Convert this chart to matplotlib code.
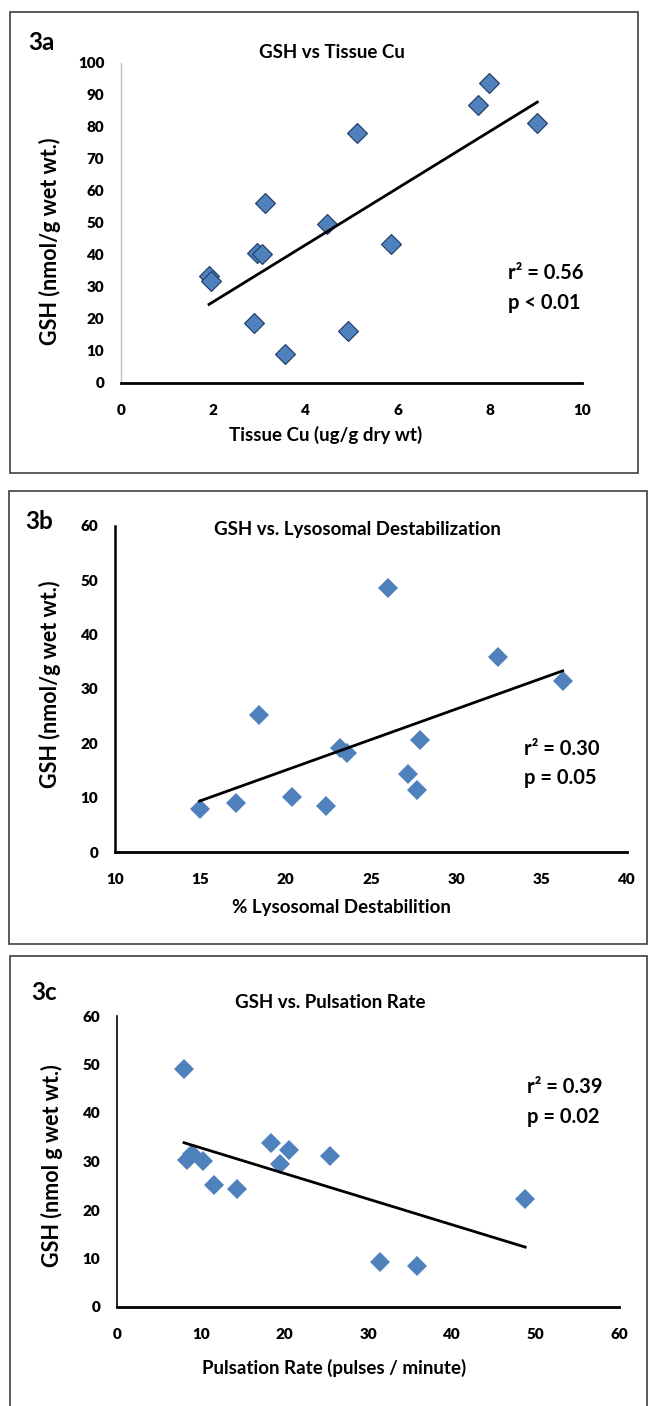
import numpy as np
import matplotlib.pyplot as plt
from matplotlib.patches import Rectangle

# panel 3a: GSH vs tissue Cu
cu_x = [1.91, 1.95, 2.89, 2.94, 3.05, 3.12, 3.55, 4.46, 4.93, 5.11, 5.85, 7.75, 7.98, 9.03]
cu_y = [33.4, 31.8, 18.8, 40.5, 40.3, 56.2, 9.0, 49.7, 16.3, 78.1, 43.4, 87.0, 93.7, 81.2]

# panel 3b: GSH vs lysosomal destabilization
lyso_x = [14.96, 17.11, 18.42, 20.38, 22.39, 23.19, 23.6, 26.0, 27.14, 27.7, 27.9, 32.45, 36.23]
lyso_y = [7.96, 9.0, 25.3, 10.1, 8.4, 19.2, 18.3, 48.6, 14.3, 11.5, 20.6, 35.8, 31.4]

# panel 3c: GSH vs pulsation rate
puls_x = [8.01, 8.4, 9.0, 10.23, 11.57, 14.38, 18.44, 19.43, 20.56, 25.4, 31.49, 35.84, 48.79]
puls_y = [49.0, 30.3, 31.5, 30.1, 25.2, 24.3, 33.9, 29.4, 32.4, 31.2, 9.3, 8.4, 22.3]

W, H = 648, 1406
plt.rcParams['font.family'] = ['Lato', 'DejaVu Sans']
plt.rcParams['font.weight'] = 'bold'

fig = plt.figure(figsize=(W / 100, H / 100), dpi=100)


def fx(px):
    return px / W


def fy(py):
    return 1 - py / H


def box(l, t, r, b):
    fig.patches.append(Rectangle((fx(l), fy(b)), fx(r - l), (b - t) / H,
                                 transform=fig.transFigure, fill=False,
                                 edgecolor='#404040', linewidth=1.2))


def panel(rect, x, y, xlim, ylim, xticks, yticks, edge, left_color, left_width, xpad):
    l, t, r, b = rect
    ax = fig.add_axes([fx(l), fy(b), fx(r - l), (b - t) / H])
    kw = dict(marker='D', markersize=10.5, linestyle='none', color='#4F81BD')
    if edge:
        kw.update(markeredgecolor='#1F3864', markeredgewidth=0.8)
    else:
        kw.update(markeredgewidth=0)
    ax.plot(x, y, **kw)
    m, c = np.polyfit(x, y, 1)
    xs = np.array([min(x), max(x)])
    ax.plot(xs, m * xs + c, color='black', linewidth=2)
    ax.set_xlim(xlim)
    ax.set_ylim(ylim)
    ax.set_xticks(xticks)
    ax.set_yticks(yticks)
    ax.tick_params(length=0, labelsize=11)
    ax.tick_params(axis='x', pad=15)
    ax.tick_params(axis='y', pad=12)
    for lab in ax.get_xticklabels() + ax.get_yticklabels():
        lab.set_fontweight('heavy')
    ax.spines['top'].set_visible(False)
    ax.spines['right'].set_visible(False)
    ax.spines['bottom'].set_linewidth(2)
    ax.spines['left'].set_color(left_color)
    ax.spines['left'].set_linewidth(left_width)
    ax.patch.set_alpha(0)
    return ax


def txt(px, py, s, size, ha='center', va='center', rot=0):
    fig.text(fx(px), fy(py), s, fontsize=size, fontweight='bold', ha=ha, va=va, rotation=rot)


# ---- 3a ----
box(10, 12, 638, 473)
panel((121, 63, 582, 383), cu_x, cu_y, (0, 10), (0, 100), range(0, 11, 2), range(0, 101, 10),
      True, '#bfbfbf', 1.0, 15)
txt(28, 43, '3a', 17.5, ha='left')
txt(332, 53, 'GSH vs Tissue Cu', 13.5)
txt(50, 241, 'GSH (nmol/g wet wt.)', 15.5, rot=90)
txt(326, 435, 'Tissue Cu (ug/g dry wt)', 13.5)
txt(508, 273, 'r² = 0.56', 14.5, ha='left')
txt(508, 303, 'p < 0.01', 14.5, ha='left')

# ---- 3b ----
box(9, 491, 647, 944)
panel((115, 526, 627, 852), lyso_x, lyso_y, (10, 40), (0, 60), range(10, 41, 5), range(0, 61, 10),
      False, 'black', 1.8, 12)
txt(25, 522, '3b', 17.5, ha='left')
txt(357, 529, 'GSH vs. Lysosomal Destabilization', 13.5)
txt(50, 684, 'GSH (nmol/g wet wt.)', 15.5, rot=90)
txt(341, 907, '% Lysosomal Destabilition', 13.5)
txt(524, 749, 'r² = 0.30', 14.5, ha='left')
txt(524, 778, 'p = 0.05', 14.5, ha='left')

# ---- 3c ----
box(10, 956, 647, 1420)
panel((117, 1016, 619, 1307), puls_x, puls_y, (0, 60), (0, 60), range(0, 61, 10), range(0, 61, 10),
      False, 'black', 1.2, 12)
txt(31, 993, '3c', 17.5, ha='left')
txt(330, 1002, 'GSH vs. Pulsation Rate', 13.5)
txt(52, 1166, 'GSH (nmol g wet wt.)', 15.5, rot=90)
txt(334, 1368, 'Pulsation Rate (pulses / minute)', 13.5)
txt(527, 1087, 'r² = 0.39', 14.5, ha='left')
txt(527, 1117, 'p = 0.02', 14.5, ha='left')

fig.savefig('out.png', dpi=100, facecolor='white')
